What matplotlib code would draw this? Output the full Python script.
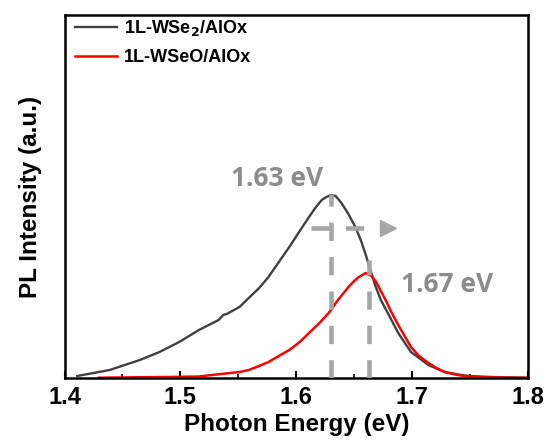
import matplotlib
matplotlib.use("Agg")
import matplotlib.pyplot as plt
from matplotlib.ticker import MultipleLocator

# PL spectra (photon energy in eV, intensity in a.u.)
wse2_energy = [1.411, 1.439, 1.465, 1.482, 1.499, 1.516, 1.533, 1.537, 1.540, 1.551,
               1.559, 1.568, 1.576, 1.585, 1.594, 1.603, 1.611, 1.617, 1.622, 1.626,
               1.630, 1.634, 1.639, 1.645, 1.651, 1.656, 1.660, 1.664, 1.668, 1.673,
               1.679, 1.688, 1.699, 1.714, 1.728, 1.745, 1.757, 1.775, 1.798]
wse2_intensity = [2, 8, 18, 26, 36, 48, 58, 63, 64, 71,
                  80, 90, 101, 116, 131, 147, 161, 171, 178, 181,
                  183, 182, 175, 164, 151, 137, 123, 108, 93, 78,
                  65, 45, 26, 13, 6, 2.5, 1.5, 0.8, 0.3]

wseo_energy = [1.430, 1.460, 1.490, 1.516, 1.535, 1.551, 1.559, 1.568, 1.576, 1.585,
               1.594, 1.603, 1.611, 1.620, 1.628, 1.636, 1.645, 1.650, 1.654, 1.660,
               1.665, 1.669, 1.673, 1.678, 1.682, 1.688, 1.693, 1.699, 1.706, 1.714,
               1.721, 1.728, 1.737, 1.745, 1.755, 1.765, 1.780, 1.798]
wseo_intensity = [0.3, 0.7, 1, 1.5, 4, 6, 8, 12, 16, 22,
                  28, 36, 45, 55, 65, 78, 91, 97, 101, 105,
                  102, 96, 87, 76, 66, 53, 43, 31, 22, 15,
                  10, 6, 3.5, 2, 1.2, 0.6, 0.3, 0.2]

peak_wse2 = 1.63
peak_wse2_top = 184
peak_wseo = 1.663
peak_wseo_top = 118
shift_start, shift_end, shift_level = 1.613, 1.679, 150

series_labels = ["1L-WSe$_2$/AlOx", "1L-WSeO/AlOx"]
xticks = [1.4, 1.5, 1.6, 1.7, 1.8]

plt.rcParams["font.family"] = ["Liberation Sans", "DejaVu Sans"]
plt.rcParams["font.weight"] = "bold"

fig = plt.figure(figsize=(5.44, 4.46), dpi=100)
ax = fig.add_axes([64.5 / 544, 68 / 446, 463.5 / 544, 363 / 446])

guide = "#a6a6a6"
ax.plot([peak_wse2, peak_wse2], [0, peak_wse2_top], color=guide, lw=3.3,
        dashes=(4, 3.5), zorder=3)
ax.plot([peak_wseo, peak_wseo], [0, peak_wseo_top], color=guide, lw=3.3,
        dashes=(4, 3.5), zorder=3)
ax.plot([shift_start, shift_end - 0.004], [shift_level, shift_level], color=guide,
        lw=3.3, dashes=(4, 3.5), zorder=3)
ax.plot([shift_end], [shift_level], marker=">", color=guide, ms=11, zorder=3)

ax.plot(wse2_energy, wse2_intensity, color="#404040", lw=1.7, label=series_labels[0], zorder=2)
ax.plot(wseo_energy, wseo_intensity, color="#ff0000", lw=1.8, label=series_labels[1], zorder=2)

ax.text(1.623, 200, "1.63 eV", color="#8c8c8c", fontsize=19, fontweight="bold",
        family=["Open Sans", "DejaVu Sans"], ha="right", va="center")
ax.text(1.6905, 93, "1.67 eV", color="#8c8c8c", fontsize=19, fontweight="bold",
        family=["Open Sans", "DejaVu Sans"], ha="left", va="center")

ax.set_xlim(1.4, 1.8)
ax.set_ylim(0, 363)
ax.set_xticks(xticks)
ax.set_xticklabels([f"{t:.1f}" for t in xticks])
ax.xaxis.set_minor_locator(MultipleLocator(0.05))
ax.set_yticks([])
ax.tick_params(axis="x", which="major", direction="in", length=5, width=1.5,
               labelsize=17, pad=6)
ax.tick_params(axis="x", which="minor", direction="in", length=3, width=1.2)
for s in ax.spines.values():
    s.set_linewidth(1.8)

ax.set_xlabel("Photon Energy (eV)", fontsize=17.5, fontweight="bold", labelpad=3)
ax.set_ylabel("PL Intensity (a.u.)", fontsize=17.5, fontweight="bold", labelpad=16)

ax.legend(loc="upper left", bbox_to_anchor=(0.016, 1.0), frameon=False,
          handlelength=2.3, handletextpad=0.4, labelspacing=0.6,
          borderaxespad=0.0, borderpad=0.17,
          prop={"weight": "bold", "size": 13})

fig.savefig("out.png", dpi=100)
